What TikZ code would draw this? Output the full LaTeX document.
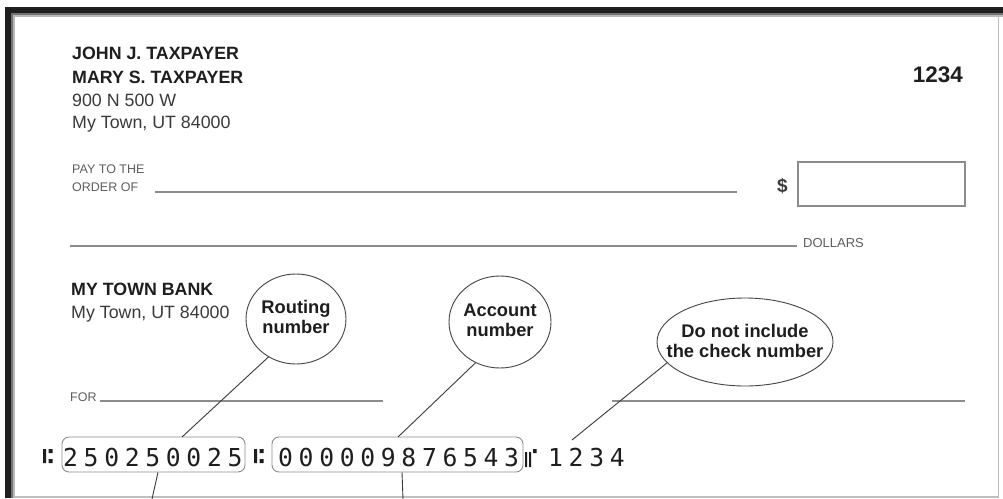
\documentclass[tikz,border=0pt]{standalone}
\usepackage{fontspec}
\setmainfont{Liberation Sans}
\newfontfamily\micrfont[LetterSpace=23]{DejaVu Sans Mono}
\usetikzlibrary{shapes.geometric}
\definecolor{ink}{HTML}{1E1E1E}
\definecolor{soft}{HTML}{3A3A3A}
\definecolor{faint}{HTML}{5E5E5E}
\definecolor{rule}{HTML}{8C8C8C}
\definecolor{edge}{HTML}{444444}
\tikzset{
  bigbold/.style={anchor=base west, inner sep=0, text=ink, font=\bfseries\fontsize{17.8}{20}\selectfont},
  bigreg/.style={anchor=base west, inner sep=0, text=soft, font=\fontsize{17.8}{20}\selectfont},
  smalltxt/.style={anchor=base west, inner sep=0, text=faint, font=\fontsize{12.5}{14}\selectfont},
  ruleline/.style={draw=rule, line width=1.4pt},
  bubble/.style={ellipse, draw=edge, line width=0.9pt, inner sep=0},
  bubbletxt/.style={align=center, inner sep=0, text=ink, font=\bfseries\fontsize{18.3}{20}\selectfont},
  pointer/.style={draw=soft, line width=0.9pt},
  micrbox/.style={draw=rule, line width=0.9pt, rounded corners=7pt, inner sep=0},
  micrdigits/.style={anchor=base west, inner sep=0, text=ink, font=\micrfont\fontsize{24.7}{26}\selectfont},
  micrmark/.style={fill=ink}
}
\begin{document}
\begin{tikzpicture}[x=1pt,y=-1pt]
\useasboundingbox (0,0) rectangle (1003,498);
\fill[white] (0,0) rectangle (1003,498);
% frame
\draw[black!25, line width=1.5pt] (5,497) -- (998.5,497) -- (998.5,7);
\fill[black!88] (5,7) rectangle (1003,13);
\fill[black!55] (11,13) rectangle (1003,15);
\fill[black!28] (13,15) rectangle (1003,16.5);
\fill[black!88] (5,7) rectangle (11,498);
\fill[black!55] (11,13) rectangle (13,498);
\fill[black!28] (13,15) rectangle (14.5,498);

% payer
\node[bigbold] (john) at (72,59) {JOHN J. TAXPAYER};
\node[bigbold] (mary) at (72,83) {MARY S. TAXPAYER};
\node[bigreg] (street) at (72,106) {900 N 500 W};
\node[bigreg] (town) at (72,128) {My Town, UT 84000};
\node[anchor=base east, inner sep=0, text=ink, font=\bfseries\fontsize{22.5}{24}\selectfont] (checkno) at (963,82) {1234};

% pay to
\node[smalltxt] (payto) at (72,173) {PAY TO THE};
\node[smalltxt] (order) at (72,191) {ORDER OF};
\draw[ruleline] (155,192) -- (737,192);
\node[anchor=base west, inner sep=0, text=soft, font=\bfseries\fontsize{19}{21}\selectfont] (dollarsign) at (777,192) {\$};
\draw[draw=rule, line width=1.3pt] (798,162) rectangle (965,206);
\draw[ruleline] (70,246) -- (797,246);
\node[anchor=base west, inner sep=0, text=faint, font=\fontsize{13}{15}\selectfont] (dollars) at (803,247) {DOLLARS};

% bank
\node[bigbold] (bank) at (71,295) {MY TOWN BANK};
\node[bigreg] (banktown) at (71,318) {My Town, UT 84000};

% memo and signature
\node[smalltxt] (for) at (70,401) {FOR};
\draw[ruleline] (100,401) -- (383,401);
\draw[ruleline] (612,401) -- (965,401);

% bubbles
\node[bubble, minimum width=100, minimum height=90] (routing) at (296,319) {};
\node[bubbletxt] (routingtxt) at (296,317) {Routing\\number};
\node[bubble, minimum width=102, minimum height=92] (account) at (500,322) {};
\node[bubbletxt] (accounttxt) at (500,320) {Account\\number};
\node[bubble, minimum width=176, minimum height=88] (checkbub) at (745,342) {};
\node[bubbletxt] (checktxt) at (745,341) {Do not include\\the check number};

% MICR line
% transit symbols (drawn: no installed family has U+2446)
\fill[micrmark] (43,449) rectangle (46,463) (48.5,449) rectangle (52.5,453) (48.5,459) rectangle (52.5,463);
\node[micrbox, minimum width=183, minimum height=35] (rbox) at (153.5,454.5) {};
\node[micrdigits] (rdigits) at (63,466) {250250025};
\fill[micrmark] (254,449) rectangle (257,463) (259.5,449) rectangle (263.5,453) (259.5,459) rectangle (263.5,463);
\node[micrbox, minimum width=251, minimum height=35] (abox) at (397.5,454.5) {};
\node[micrdigits] (adigits) at (278,466) {000009876543};
% on-us symbol (drawn: no installed family has U+2448)
\fill[micrmark] (525,452) rectangle (527,467) (529,452) rectangle (531,467) (533,449) rectangle (536.5,453);
\node[micrdigits] (cdigits) at (548,466) {1234};

% pointers
\coordinate (rtip) at (182,437);
\coordinate (atip) at (398,437);
\coordinate (ctip) at (572,440);
\draw[pointer] (routing.234) -- (rtip);
\draw[pointer] (account.239) -- (atip);
\draw[pointer] (checkbub.195) -- (ctip);
\coordinate (rdown) at (152,499);
\coordinate (adown) at (403,499);
\draw[pointer] (rbox.south -| 158,0) -- (rdown);
\draw[pointer] (abox.south -| 402,0) -- (adown);
\end{tikzpicture}
\end{document}
